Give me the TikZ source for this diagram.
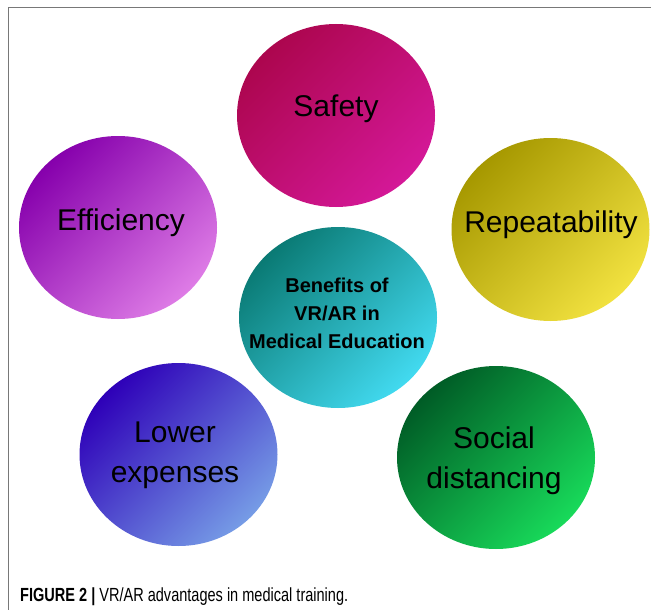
\documentclass[tikz,border=0pt]{standalone}
\usepackage{fontspec}
\setmainfont{Liberation Sans}
\newfontfamily\capfont[FakeStretch=0.765]{Liberation Sans}
\usetikzlibrary{shapes.geometric}

\definecolor{safA}{RGB}{172,6,78}
\definecolor{safB}{RGB}{212,24,152}
\definecolor{effA}{RGB}{134,0,172}
\definecolor{effB}{RGB}{222,124,230}
\definecolor{repA}{RGB}{166,152,0}
\definecolor{repB}{RGB}{242,226,64}
\definecolor{cenA}{RGB}{10,122,116}
\definecolor{cenB}{RGB}{66,218,240}
\definecolor{lowA}{RGB}{46,0,184}
\definecolor{lowB}{RGB}{118,156,230}
\definecolor{socA}{RGB}{0,92,38}
\definecolor{socB}{RGB}{24,218,90}
\definecolor{framegray}{RGB}{120,120,120}

\tikzset{
  bubble/.style n args={2}{ellipse, minimum width=198pt, minimum height=183pt,
    inner sep=0pt, top color=#1, bottom color=#2, shading angle=45},
  lbl/.style={anchor=base, align=center, inner sep=0pt,
    font=\fontsize{30}{39.5}\selectfont},
  hub/.style={anchor=base, align=center, inner sep=0pt,
    font=\fontsize{20}{28}\selectfont\bfseries},
}

\begin{document}
\begin{tikzpicture}[x=1pt, y=-1pt]
  \useasboundingbox (0,0) rectangle (651,610);
  \fill[white] (0,0) rectangle (651,610);

  % frame
  \draw[framegray, line width=1pt] (8,610) -- (8,8) -- (651,8);

  % bubbles (dark upper left, light lower right)
  \node[bubble={safA}{safB}] (saf) at (336,115.5) {};
  \node[bubble={effA}{effB}] (eff) at (118,227.5) {};
  \node[bubble={repA}{repB}] (rep) at (550.5,229.5) {};
  \node[bubble={cenA}{cenB}, minimum height=181pt] (cen) at (338,317.5) {};
  \node[bubble={lowA}{lowB}] (low) at (178.5,454.5) {};
  \node[bubble={socA}{socB}] (soc) at (496,457.5) {};

  % labels (multi-line nodes sit on the baseline of their last line)
  \node[lbl] (tsaf) at (336,117) {Safety};
  \node[lbl] (teff) at (121,230) {Efficiency};
  \node[lbl] (trep) at (551,232) {Repeatability};
  \node[hub] (tcen) at (337,348) {Benefits of\\VR/AR in\\Medical Education};
  \node[lbl] (tlow) at (175,482) {Lower\\expenses};
  \node[lbl] (tsoc) at (494,488) {Social\\distancing};

  % caption
  \node[anchor=base west, inner sep=0pt, font=\capfont\fontsize{19}{22}\selectfont]
    (cap) at (20,601.5) {\textbf{FIGURE 2 |} VR/AR advantages in medical training.};
\end{tikzpicture}
\end{document}
